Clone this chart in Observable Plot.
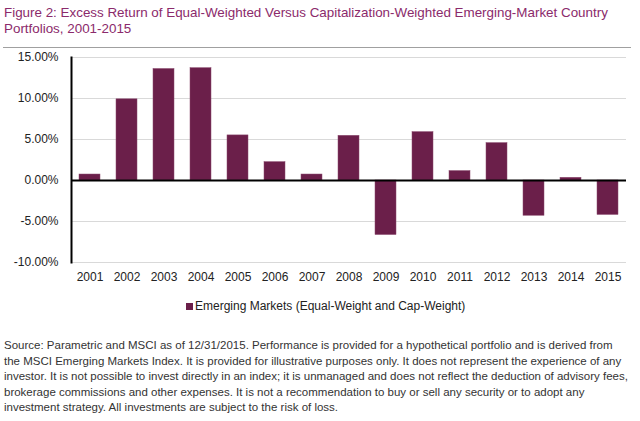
<!DOCTYPE html>
<html>
<head>
<meta charset="utf-8">
<script src="https://cdn.jsdelivr.net/npm/d3@7"></script>
<script src="https://cdn.jsdelivr.net/npm/@observablehq/plot@0.6"></script>
<style>
  html, body { margin: 0; padding: 0; background: #fff; }
  #wrap { position: relative; width: 640px; height: 421px; overflow: hidden; font-family: "Liberation Sans", Arial, sans-serif; }
  #title { position: absolute; left: 4px; top: 5px; font-size: 13.4px; line-height: 16px; color: #8b2a6b; }
  #rule { position: absolute; left: 3px; top: 47px; width: 628px; height: 0; border-top: 1.5px solid #a0a0a0; }
  #chart { position: absolute; left: 0; top: 0; }
  #legend { position: absolute; left: 186px; top: 299px; font-size: 12px; color: #222; display: flex; align-items: center; }
  #legend .sw { width: 7px; height: 7px; background: #6b1f4a; margin-right: 2px; }
  #note { position: absolute; left: 4px; top: 338px; font-size: 11.5px; line-height: 15.5px; color: #333; white-space: nowrap; }
</style>
</head>
<body>
<div id="wrap">
  <div id="title"></div>
  <div id="rule"></div>
  <div id="chart"></div>
  <div id="legend"></div>
  <div id="note"></div>
</div>
<script>
const years = ["2001","2002","2003","2004","2005","2006","2007","2008","2009","2010","2011","2012","2013","2014","2015"];
const excessReturn = [0.73, 9.9, 13.6, 13.7, 5.5, 2.24, 0.73, 5.45, -6.65, 5.9, 1.15, 4.56, -4.3, 0.33, -4.2];
const yTicks = [-10, -5, 0, 5, 10, 15];
const titleLines = [
  "Figure 2: Excess Return of Equal-Weighted Versus Capitalization-Weighted Emerging-Market Country",
  "Portfolios, 2001-2015"
];
const seriesName = "Emerging Markets (Equal-Weight and Cap-Weight)";
const noteLines = [
  "Source: Parametric and MSCI as of 12/31/2015. Performance is provided for a hypothetical portfolio and is derived from",
  "the MSCI Emerging Markets Index. It is provided for illustrative purposes only. It does not represent the experience of any",
  "investor. It is not possible to invest directly in an index; it is unmanaged and does not reflect the deduction of advisory fees,",
  "brokerage commissions and other expenses. It is not a recommendation to buy or sell any security or to adopt any",
  "investment strategy. All investments are subject to the risk of loss."
];

const data = years.map((y, i) => ({year: y, value: excessReturn[i]}));
const barColor = "#6b1f4a";

document.getElementById("title").innerHTML = titleLines.join("<br>");
document.getElementById("note").innerHTML = noteLines.join("<br>");
document.getElementById("legend").innerHTML = `<span class="sw"></span><span>${seriesName}</span>`;

const chart = Plot.plot({
  width: 640,
  height: 300,
  marginTop: 57,
  marginBottom: 38,
  marginLeft: 71,
  marginRight: 14,
  style: {fontFamily: "'Liberation Sans', Arial, sans-serif", fontSize: "12px", color: "#222", background: "transparent"},
  x: {domain: years, paddingInner: 0.43, paddingOuter: 0.2, label: null},
  y: {domain: [-10, 15], label: null},
  marks: [
    Plot.gridY(yTicks, {stroke: "#d9d9d9", strokeOpacity: 1, strokeWidth: 1}),
    Plot.barY(data, {x: "year", y: "value", fill: barColor, stroke: "#8a4a6e", strokeWidth: 0.5}),
    Plot.ruleY([0], {stroke: "#000", strokeWidth: 2}),
    Plot.axisY({ticks: yTicks, tickSize: 0, tickPadding: 13, tickFormat: d => d.toFixed(2) + "%", fontSize: 12}),
    Plot.axisX({tickSize: 0, tickPadding: 10, fontSize: 12}),
    Plot.frame({anchor: "left", stroke: "#000", strokeWidth: 2})
  ]
});
document.getElementById("chart").appendChild(chart);
</script>
</body>
</html>
